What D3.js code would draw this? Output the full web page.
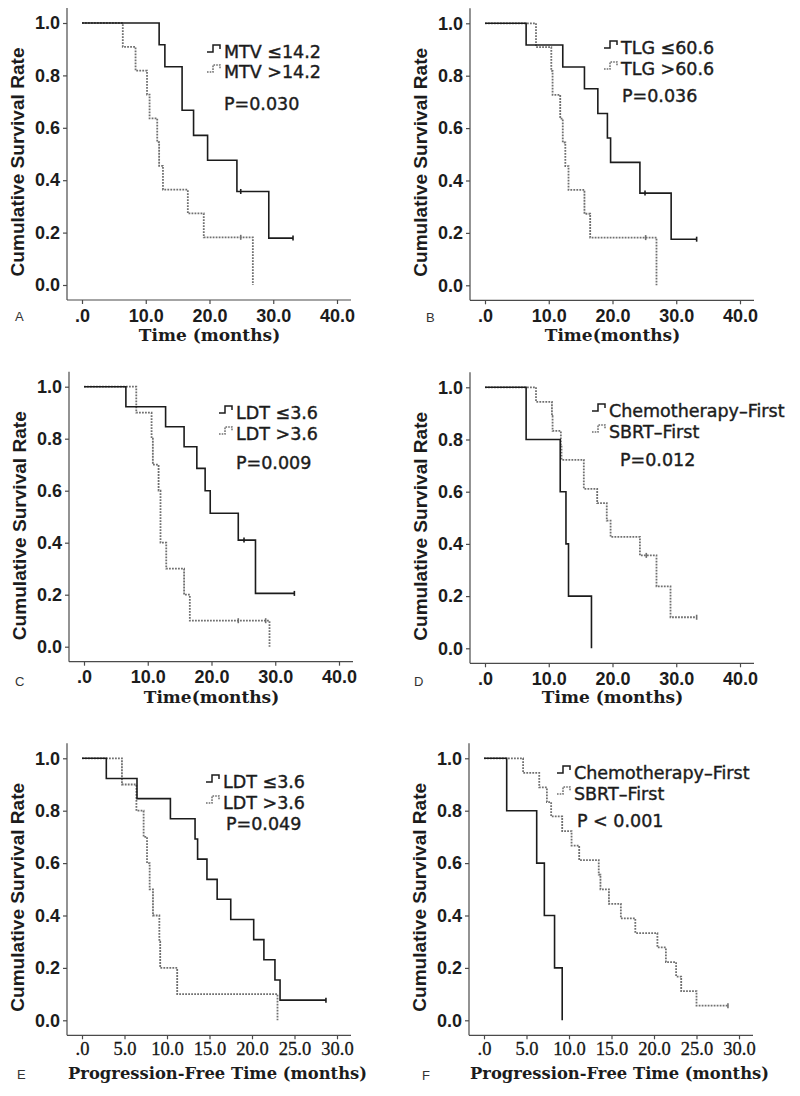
<!DOCTYPE html>
<html><head><meta charset="utf-8">
<script src="https://cdn.jsdelivr.net/npm/d3@7/dist/d3.min.js"></script>
<style>body{margin:0;background:#fff}</style>
</head><body>
<svg id="chart" width="800" height="1096"></svg>
<script>
// ---------- data ----------
const yTickValues = [0, 0.2, 0.4, 0.6, 0.8, 1.0];
const osTicks = [0, 10, 20, 30, 40];
const pfsTicks = [0, 5, 10, 15, 20, 25, 30];

// Panel A: MTV
const aSolidT = [0, 12.1, 13.0, 15.7, 17.5, 19.7, 24.3, 29.3, 33.1];
const aSolidS = [1, 0.917, 0.833, 0.667, 0.571, 0.476, 0.357, 0.179, 0.179];
const aSolidCens = [24.9, 33.1];
const aDotT = [0, 6.4, 8.4, 10.2, 10.6, 11.8, 12.1, 12.7, 16.6, 19.1, 26.8];
const aDotS = [1, 0.909, 0.818, 0.727, 0.636, 0.545, 0.455, 0.364, 0.273, 0.182, 0];
const aDotCens = [24.9];
const legA = ["MTV \u226414.2", "MTV >14.2", "P=0.030"];

// Panel B: TLG
const bSolidT = [0, 6.45, 12.2, 15.6, 17.7, 19.2, 19.7, 24.3, 29.2, 33.2];
const bSolidS = [1, 0.917, 0.833, 0.75, 0.656, 0.5625, 0.469, 0.352, 0.176, 0.176];
const bSolidCens = [25.1, 33.2];
const bDotT = [0, 8.0, 10.4, 10.6, 11.8, 12.2, 12.6, 13.1, 15.6, 16.5, 26.9];
const bDotS = [1, 0.909, 0.818, 0.727, 0.636, 0.545, 0.455, 0.364, 0.273, 0.182, 0];
const bDotCens = [25.2];
const legB = ["TLG \u226460.6", "TLG >60.6", "P=0.036"];

// Panel C: LDT (OS)
const cSolidT = [0, 6.57, 12.8, 15.7, 17.7, 19.0, 19.8, 24.2, 26.9, 33.0];
const cSolidS = [1, 0.923, 0.846, 0.769, 0.686, 0.6, 0.513, 0.41, 0.205, 0.205];
const cSolidCens = [25.1, 33.0];
const cDotT = [0, 8.2, 10.6, 10.8, 11.7, 12.0, 12.9, 15.7, 16.6, 29.1];
const cDotS = [1, 0.9, 0.8, 0.7, 0.6, 0.4, 0.3, 0.2, 0.1, 0];
const cDotCens = [24.2, 28.5];
const legC = ["LDT \u22643.6", "LDT >3.6", "P=0.009"];

// Panel D: treatment order (OS)
const dSolidT = [0, 6.45, 11.8, 12.7, 13.1, 16.7];
const dSolidS = [1, 0.8, 0.6, 0.4, 0.2, 0];
const dSolidCens = [];
const dDotT = [0, 8.0, 10.5, 10.6, 11.9, 12.0, 15.5, 17.6, 19.1, 19.7, 24.3, 26.9, 29.1, 33.2];
const dDotS = [1, 0.944, 0.889, 0.833, 0.778, 0.722, 0.611, 0.556, 0.489, 0.427, 0.356, 0.237, 0.119, 0.119];
const dDotCens = [25.3, 33.2];
const legD = ["Chemotherapy\u2013First", "SBRT\u2013First", "P=0.012"];

// Panel E: LDT (PFS)
const eSolidT = [0, 2.86, 6.47, 10.4, 13.3, 13.6, 14.7, 15.9, 17.5, 20.2, 21.4, 22.7, 23.3, 28.7];
const eSolidS = [1, 0.923, 0.846, 0.769, 0.692, 0.615, 0.538, 0.462, 0.385, 0.308, 0.231, 0.154, 0.077, 0.077];
const eSolidCens = [28.7];
const eDotT = [0, 4.7, 6.4, 7.25, 7.65, 7.96, 8.35, 9.1, 9.2, 11.2, 23.0];
const eDotS = [1, 0.9, 0.8, 0.7, 0.6, 0.5, 0.4, 0.3, 0.2, 0.1, 0];
const eDotCens = [];
const legE = ["LDT \u22643.6", "LDT >3.6", "P=0.049"];

// Panel F: treatment order (PFS)
const fSolidT = [0, 2.67, 6.2, 7.1, 8.3, 9.2];
const fSolidS = [1, 0.8, 0.6, 0.4, 0.2, 0];
const fSolidCens = [];
const fDotT = [0, 4.6, 6.5, 7.4, 7.9, 9.2, 10.3, 11.2, 13.5, 13.7, 14.7, 16.1, 17.8, 20.4, 21.4, 22.6, 23.2, 25.0, 28.7];
const fDotS = [1, 0.944, 0.889, 0.833, 0.778, 0.722, 0.667, 0.611, 0.556, 0.5, 0.444, 0.389, 0.333, 0.278, 0.222, 0.167, 0.111, 0.056, 0.056];
const fDotCens = [28.7];
const legF = ["Chemotherapy\u2013First", "SBRT\u2013First", "P < 0.001"];

const yTitle = "Cumulative Survival Rate";
const xTitles = ["Time (months)", "Time(months)", "Time(months)", "Time (months)",
                 "Progression-Free Time (months)", "Progression-Free Time (months)"];
const panelLetters = ["A", "B", "C", "D", "E", "F"];

// ---------- layout ----------
const panels = [
  {ox: 67,  oy: 23,    h: 262, xMax: 40, ticks: osTicks,  pfs: false, solid: [aSolidT, aSolidS, aSolidCens], dot: [aDotT, aDotS, aDotCens], leg: legA, tx: 224, b1: 58,  b2: 78,  px: 224, pb: 110, lx: 15,  ly: 321, ty: 341},
  {ox: 470, oy: 23.3,  h: 262, xMax: 40, ticks: osTicks,  pfs: false, solid: [bSolidT, bSolidS, bSolidCens], dot: [bDotT, bDotS, bDotCens], leg: legB, tx: 621, b1: 54,  b2: 75,  px: 622, pb: 102, lx: 426, ly: 322, ty: 341},
  {ox: 69,  oy: 386.7, h: 260, xMax: 40, ticks: osTicks,  pfs: false, solid: [cSolidT, cSolidS, cSolidCens], dot: [cDotT, cDotS, cDotCens], leg: legC, tx: 236, b1: 419, b2: 440, px: 236, pb: 469, lx: 15,  ly: 686, ty: 703},
  {ox: 470, oy: 387.3, h: 261, xMax: 40, ticks: osTicks,  pfs: false, solid: [dSolidT, dSolidS, dSolidCens], dot: [dDotT, dDotS, dDotCens], leg: legD, tx: 609, b1: 417, b2: 438, px: 620, pb: 466, lx: 414, ly: 686, ty: 703},
  {ox: 67,  oy: 758.3, h: 262, xMax: 30, ticks: pfsTicks, pfs: true,  solid: [eSolidT, eSolidS, eSolidCens], dot: [eDotT, eDotS, eDotCens], leg: legE, tx: 223, b1: 788, b2: 809, px: 226, pb: 830, lx: 17,  ly: 1079, ty: 1079},
  {ox: 469, oy: 758.3, h: 262, xMax: 30, ticks: pfsTicks, pfs: true,  solid: [fSolidT, fSolidS, fSolidCens], dot: [fDotT, fDotS, fDotCens], leg: legF, tx: 574, b1: 779, b2: 800, px: 577, pb: 827, lx: 422, ly: 1080, ty: 1079}
];

const svg = d3.select("#chart");
const INK = "#1c1c1c", GREY = "#707070", AXIS = "#4a4a4a";
const sansB = "'Liberation Sans', Arial, sans-serif";

function survAt(T, S, t) {
  let v = S[0];
  for (let i = 0; i < T.length; i++) if (T[i] <= t) v = S[i];
  return v;
}

panels.forEach((p, i) => {
  const g = svg.append("g");
  const x = d3.scaleLinear().domain([0, p.xMax]).range([p.ox + 15, p.ox + 270]);
  const y = d3.scaleLinear().domain([0, 1]).range([p.oy + p.h, p.oy]);
  const axisY = p.oy + p.h + 15;

  // axis lines
  g.append("line").attr("x1", p.ox).attr("x2", p.ox).attr("y1", p.oy - 15).attr("y2", axisY)
    .attr("stroke", AXIS).attr("stroke-width", 1.2);
  g.append("line").attr("x1", p.ox).attr("x2", p.ox + 284).attr("y1", axisY).attr("y2", axisY)
    .attr("stroke", AXIS).attr("stroke-width", 1.2);

  // y axis
  const ya = g.append("g").attr("transform", `translate(${p.ox},0)`)
    .call(d3.axisLeft(y).tickValues(yTickValues).tickFormat(d3.format(".1f")).tickSize(4).tickPadding(3));
  ya.select(".domain").remove();
  ya.selectAll("line").attr("stroke", AXIS).attr("stroke-width", 1.2);
  ya.selectAll("text").attr("font-family", sansB).attr("font-weight", "bold")
    .attr("font-size", 18).attr("fill", INK);

  // x axis
  const fmt = d => d === 0 ? ".0" : d.toFixed(1);
  const xa = g.append("g").attr("transform", `translate(0,${axisY})`)
    .call(d3.axisBottom(x).tickValues(p.ticks).tickFormat(fmt).tickSize(4).tickPadding(p.pfs ? 3 : 5));
  xa.select(".domain").remove();
  xa.selectAll("line").attr("stroke", AXIS).attr("stroke-width", 1.2);
  if (p.pfs) {
    xa.selectAll("text").attr("font-family", "'Liberation Serif', serif")
      .attr("font-size", 18.5).attr("fill", "#151515").attr("font-weight", "normal")
      .attr("stroke", "#151515").attr("stroke-width", 0.3);
  } else {
    xa.selectAll("text").attr("font-family", sansB).attr("font-weight", "bold")
      .attr("font-size", 18).attr("fill", INK);
  }

  // y title
  const cy = p.oy + 139;
  g.append("text").attr("transform", `translate(${p.ox - 43},${cy}) rotate(-90)`)
    .attr("text-anchor", "middle").attr("font-family", sansB).attr("font-weight", "bold")
    .attr("font-size", 19).attr("fill", INK).attr("textLength", 229).attr("lengthAdjust", "spacingAndGlyphs")
    .text(yTitle);

  // x title
  const xt = g.append("text").attr("x", p.ox + 15 + 127.5 + (p.pfs ? 8 : 0)).attr("y", p.ty)
    .attr("text-anchor", "middle").attr("font-family", "'DejaVu Serif', serif").attr("font-weight", "bold")
    .attr("font-size", p.pfs ? 16.5 : 17).attr("fill", INK).text(xTitles[i]);
  if (p.pfs) xt.attr("textLength", 299).attr("lengthAdjust", "spacingAndGlyphs");

  // panel letter
  g.append("text").attr("x", p.lx).attr("y", p.ly).attr("font-family", sansB)
    .attr("font-size", 13).attr("fill", "#333").text(panelLetters[i]);

  // curves
  const line = d3.line().x(d => x(d[0])).y(d => y(d[1])).curve(d3.curveStepAfter);
  const drawCurve = (arr, color, dash, w) => {
    const [T, S, C] = arr;
    const pts = T.map((t, k) => [t, S[k]]);
    g.append("path").attr("d", line(pts)).attr("fill", "none").attr("stroke", color)
      .attr("stroke-width", w).attr("stroke-dasharray", dash);
    C.forEach(t => {
      const s = survAt(T, S, t);
      g.append("line").attr("x1", x(t)).attr("x2", x(t)).attr("y1", y(s) - 2.5).attr("y2", y(s) + 2.5)
        .attr("stroke", color).attr("stroke-width", 1.6);
    });
  };
  drawCurve(p.dot, GREY, "1.8,1.2", 1.8);
  drawCurve(p.solid, INK, null, 1.6);

  // legend
  const legFont = "'DejaVu Sans', sans-serif";
  const icon = (bx, base, color, dash) => {
    const x0 = bx - 17;
    g.append("path")
      .attr("d", `M${x0},${base - 6}H${x0 + 6}V${base - 13}H${x0 + 13}V${base - 9}`)
      .attr("fill", "none").attr("stroke", color).attr("stroke-width", 1.5).attr("stroke-dasharray", dash);
  };
  icon(p.tx, p.b1, INK, null);
  icon(p.tx, p.b2, GREY, "1.6,1.1");
  [[p.leg[0], p.tx, p.b1], [p.leg[1], p.tx, p.b2], [p.leg[2], p.px, p.pb]].forEach(([t, lx, ly]) => {
    g.append("text").attr("x", lx).attr("y", ly).attr("font-family", legFont)
      .attr("font-size", 17.5).attr("fill", INK).attr("stroke", INK).attr("stroke-width", 0.4).text(t);
  });
});
</script>
</body></html>
